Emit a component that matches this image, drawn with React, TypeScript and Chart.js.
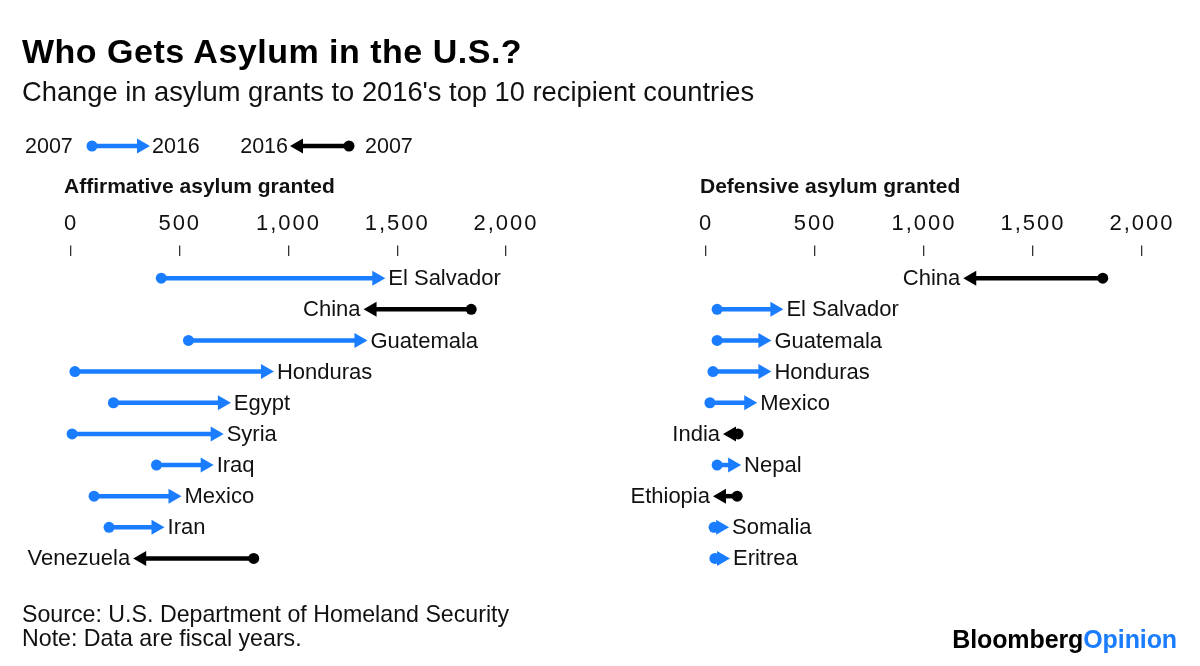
import React, { useEffect, useRef } from "react";
import { Chart, registerables } from "chart.js";

Chart.register(...registerables);

// ---- Data ----
const affCountries = ["El Salvador", "China", "Guatemala", "Honduras", "Egypt", "Syria", "Iraq", "Mexico", "Iran", "Venezuela"];
const aff2007 = [415, 1840, 540, 18, 195, 5, 393, 106, 175, 840];
const aff2016 = [1445, 1345, 1363, 933, 735, 702, 656, 508, 430, 286];

const defCountries = ["China", "El Salvador", "Guatemala", "Honduras", "Mexico", "India", "Nepal", "Ethiopia", "Somalia", "Eritrea"];
const def2007 = [1820, 51, 51, 32, 18, 147, 51, 143, 37, 41];
const def2016 = [1180, 355, 300, 300, 235, 78, 161, 32, 106, 110];

const tickValues = [0, 500, 1000, 1500, 2000];
const tickLabels = ["0", "500", "1,000", "1,500", "2,000"];

const BLUE = "#1a7cff";
const BLACK = "#000000";
const FONT = '"Liberation Sans", Arial, Helvetica, sans-serif';

function drawArrow(ctx: CanvasRenderingContext2D, x0: number, x1: number, y: number, color: string) {
  const dir = x1 >= x0 ? 1 : -1;
  const hl = 13;
  const hw = 7.5;
  const base = x1 - dir * hl;
  ctx.save();
  ctx.strokeStyle = color;
  ctx.fillStyle = color;
  ctx.lineWidth = 4.5;
  if ((base - x0) * dir > 0) {
    ctx.beginPath();
    ctx.moveTo(x0, y);
    ctx.lineTo(base + dir * 1, y);
    ctx.stroke();
  }
  ctx.beginPath();
  ctx.moveTo(x1, y);
  ctx.lineTo(base, y - hw);
  ctx.lineTo(base, y + hw);
  ctx.closePath();
  ctx.fill();
  ctx.restore();
}

// widen the tick-label spacing like the original's digits
const spacingPlugin = {
  id: "tickSpacing",
  beforeDraw(chart: any) {
    (chart.ctx as any).letterSpacing = "2px";
  },
  beforeDatasetsDraw(chart: any) {
    (chart.ctx as any).letterSpacing = "0px";
  },
};

function makeArrowPlugin(names: string[]) {
  return {
    id: "arrows",
    afterDatasetsDraw(chart: any) {
      const { ctx } = chart;
      const xs = chart.scales.x;
      const ys = chart.scales.y;
      const d07 = chart.data.datasets[0].data;
      const d16 = chart.data.datasets[1].data;
      ctx.save();
      (ctx as any).letterSpacing = "0px";
      ctx.font = `22px ${FONT}`;
      ctx.textBaseline = "middle";
      for (let i = 0; i < names.length; i++) {
        const a = d07[i];
        const b = d16[i];
        const px0 = xs.getPixelForValue(a.x);
        const px1 = xs.getPixelForValue(b.x);
        const py = ys.getPixelForValue(a.y);
        const color = b.x >= a.x ? BLUE : BLACK;
        drawArrow(ctx, px0, px1, py, color);
        ctx.fillStyle = "#111";
        if (b.x >= a.x) {
          ctx.textAlign = "left";
          ctx.fillText(names[i], px1 + 3, py + 1);
        } else {
          ctx.textAlign = "right";
          ctx.fillText(names[i], px1 - 3, py + 1);
        }
      }
      ctx.restore();
    },
  };
}

const legendPlugin = {
  id: "legendArrows",
  afterDraw(chart: any) {
    const { ctx } = chart;
    const y = 146;
    ctx.save();
    (ctx as any).letterSpacing = "0px";
    ctx.font = `21.5px ${FONT}`;
    ctx.textBaseline = "middle";
    ctx.fillStyle = "#111";
    ctx.textAlign = "left";
    ctx.fillText("2007", 25, y + 1);
    drawArrow(ctx, 92, 150, y, BLUE);
    ctx.fillStyle = BLUE;
    ctx.beginPath();
    ctx.arc(92, y, 5.5, 0, Math.PI * 2);
    ctx.fill();
    ctx.fillStyle = "#111";
    ctx.fillText("2016", 152, y + 1);
    ctx.textAlign = "right";
    ctx.fillText("2016", 288, y + 1);
    drawArrow(ctx, 349, 290, y, BLACK);
    ctx.fillStyle = BLACK;
    ctx.beginPath();
    ctx.arc(349, y, 5.5, 0, Math.PI * 2);
    ctx.fill();
    ctx.fillStyle = "#111";
    ctx.textAlign = "left";
    ctx.fillText("2007", 365, y + 1);
    ctx.restore();
  },
};

function makeConfig(names: string[], v07: number[], v16: number[], padding: any, extra: any[]) {
  const colors = v07.map((a, i) => (v16[i] >= a ? BLUE : BLACK));
  return {
    type: "scatter",
    data: {
      datasets: [
        {
          label: "2007",
          data: v07.map((v, i) => ({ x: v, y: i })),
          pointRadius: 5.5,
          pointHoverRadius: 5.5,
          pointBackgroundColor: colors,
          pointBorderWidth: 0,
          clip: false,
        },
        {
          label: "2016",
          data: v16.map((v, i) => ({ x: v, y: i })),
          pointRadius: 0,
          pointHoverRadius: 0,
          clip: false,
        },
      ],
    },
    options: {
      animation: false,
      responsive: false,
      maintainAspectRatio: false,
      events: [],
      layout: { padding },
      plugins: { legend: { display: false }, tooltip: { enabled: false } },
      scales: {
        x: {
          type: "linear",
          position: "top",
          min: 0,
          max: 2000,
          afterBuildTicks: (s: any) => {
            s.ticks = tickValues.map((v) => ({ value: v }));
          },
          grid: { display: true, drawOnChartArea: false, drawTicks: true, tickLength: 11, color: "#333", lineWidth: 1.3 },
          border: { display: false },
          ticks: {
            padding: 8,
            font: { family: FONT, size: 22 },
            color: "#111",
            maxRotation: 0,
            autoSkip: false,
            callback: (v: number) => {
              const k = tickValues.indexOf(v);
              return k >= 0 ? tickLabels[k] : "";
            },
          },
        },
        y: { type: "linear", display: false, reverse: true, min: -0.7, max: 9.5 },
      },
    },
    plugins: [spacingPlugin, makeArrowPlugin(names), ...extra],
  };
}

export default function App() {
  const leftRef = useRef<HTMLCanvasElement>(null);
  const rightRef = useRef<HTMLCanvasElement>(null);

  useEffect(() => {
    const left = new Chart(
      leftRef.current as HTMLCanvasElement,
      makeConfig(affCountries, aff2007, aff2016, { left: 71, right: 94, top: 203, bottom: 92 }, [legendPlugin]) as any
    );
    const right = new Chart(
      rightRef.current as HTMLCanvasElement,
      makeConfig(defCountries, def2007, def2016, { left: 106, right: 58, top: 203, bottom: 92 }, []) as any
    );
    return () => {
      left.destroy();
      right.destroy();
    };
  }, []);

  const text = (style: any, content: any) => (
    <div style={{ position: "absolute", whiteSpace: "nowrap", lineHeight: 1, color: "#111", ...style }}>{content}</div>
  );

  return (
    <div
      style={{
        position: "absolute",
        left: 0,
        top: 0,
        width: 1200,
        height: 666,
        background: "#fff",
        overflow: "hidden",
        fontFamily: FONT,
      }}
    >
      <canvas ref={leftRef} width={600} height={666} style={{ position: "absolute", left: 0, top: 0, width: 600, height: 666 }} />
      <canvas ref={rightRef} width={600} height={666} style={{ position: "absolute", left: 600, top: 0, width: 600, height: 666 }} />
      {text({ left: 22, top: 34, fontSize: 34, fontWeight: 700, letterSpacing: 0.5, color: "#000" }, "Who Gets Asylum in the U.S.?")}
      {text({ left: 22, top: 78, fontSize: 27.3 }, "Change in asylum grants to 2016's top 10 recipient countries")}
      {text({ left: 64, top: 175, fontSize: 21, fontWeight: 700 }, "Affirmative asylum granted")}
      {text({ left: 700, top: 175, fontSize: 21, fontWeight: 700 }, "Defensive asylum granted")}
      {text({ left: 22, top: 603, fontSize: 23.2 }, "Source: U.S. Department of Homeland Security")}
      {text({ left: 22, top: 627, fontSize: 23.2 }, "Note: Data are fiscal years.")}
      {text(
        { right: 23, top: 627, fontSize: 25, fontWeight: 700, letterSpacing: -0.1, color: "#000" },
        <>
          Bloomberg<span style={{ color: BLUE }}>Opinion</span>
        </>
      )}
    </div>
  );
}
